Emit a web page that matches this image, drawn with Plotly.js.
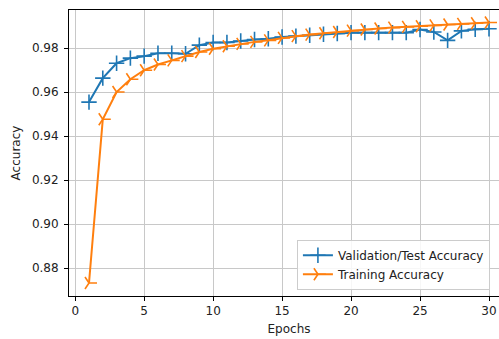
<!DOCTYPE html>
<html>
<head>
<meta charset="utf-8">
<script src="https://cdn.plot.ly/plotly-3.0.1.min.js"></script>
<style>
html,body{margin:0;padding:0;overflow:hidden;background:#fff;}
#chart{width:520px;height:339px;}
</style>
</head>
<body>
<div id="chart"></div>
<script>
const epochs = [1,2,3,4,5,6,7,8,9,10,11,12,13,14,15,16,17,18,19,20,21,22,23,24,25,26,27,28,29,30];
const valAcc = [0.9555,0.9664,0.9732,0.9755,0.9764,0.9777,0.9777,0.9775,0.9814,0.9826,
                0.9826,0.9833,0.9840,0.9843,0.9851,0.9855,0.9859,0.9864,0.9867,0.9871,
                0.9871,0.9871,0.9871,0.9871,0.9885,0.9874,0.9836,0.9879,0.9886,0.9889];
const trainAcc = [0.8732,0.9477,0.9601,0.9659,0.9700,0.9726,0.9745,0.9764,0.9783,0.9798,
                  0.9809,0.9820,0.9829,0.9836,0.9847,0.9855,0.9862,0.9868,0.9874,0.9880,
                  0.9885,0.9890,0.9894,0.9897,0.9900,0.9904,0.9908,0.9911,0.9914,0.9917];
const seriesNames = ["Validation/Test Accuracy", "Training Accuracy"];
const xTicks = [0,5,10,15,20,25,30];
const yTicks = [0.88,0.90,0.92,0.94,0.96,0.98];

const font = {family: "DejaVu Sans, sans-serif", size: 12, color: "#222"};
const traces = [
  {x: epochs, y: valAcc, name: seriesNames[0], type: "scatter", mode: "lines+markers",
   line: {color: "#1f77b4", width: 2},
   marker: {symbol: "cross-thin", size: 11, color: "#1f77b4", line: {color: "#1f77b4", width: 1.6}}},
  {x: epochs, y: trainAcc, name: seriesNames[1], type: "scatter", mode: "lines+markers",
   line: {color: "#ff7f0e", width: 2},
   marker: {symbol: "y-right", size: 10, color: "#ff7f0e", line: {color: "#ff7f0e", width: 1.6}}}
];
const layout = {
  width: 520, height: 339,
  margin: {l: 69, r: 11, t: 10, b: 43},
  paper_bgcolor: "#fff", plot_bgcolor: "#fff",
  font: font,
  showlegend: true,
  legend: {x: 0.518, y: 0.022, xanchor: "left", yanchor: "bottom",
           bgcolor: "rgba(255,255,255,0.85)", bordercolor: "#cccccc", borderwidth: 1,
           font: font, tracegroupgap: 0, itemwidth: 30},
  xaxis: {range: [-0.45, 31.45], tickvals: xTicks, ticktext: xTicks.map(String),
          showgrid: true, gridcolor: "#c8c8c8", gridwidth: 1,
          showline: true, linecolor: "#000", linewidth: 1, mirror: true,
          ticks: "outside", ticklen: 4, tickcolor: "#000", zeroline: false,
          title: {text: "Epochs", font: font, standoff: 7}},
  yaxis: {range: [0.8673, 0.9974], tickvals: yTicks, ticktext: yTicks.map(v => v.toFixed(2)),
          showgrid: true, gridcolor: "#c8c8c8", gridwidth: 1,
          showline: true, linecolor: "#000", linewidth: 1, mirror: true,
          ticks: "outside", ticklen: 4, tickcolor: "#000", zeroline: false,
          ticklabelstandoff: 3,
          title: {text: "Accuracy", font: font, standoff: 8}}
};
Plotly.newPlot("chart", traces, layout, {displayModeBar: false, staticPlot: true});
</script>
</body>
</html>
